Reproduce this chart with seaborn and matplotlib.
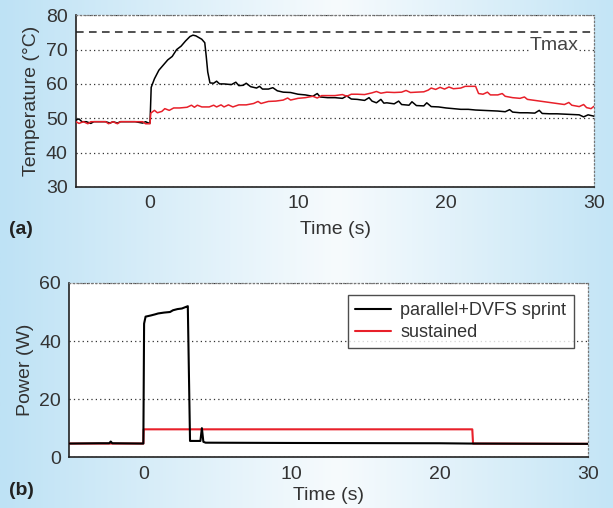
import numpy as np
import pandas as pd
import matplotlib.pyplot as plt
import seaborn as sns
from matplotlib.colors import LinearSegmentedColormap

# temperature traces (s, degC)
temp_sprint_t = [-5.0, -4.8, -4.6, -4.3, -4.0, -3.8, -3.5, -3.0, -2.7, -2.5, -2.2, -2.0, -1.5, -1.0,
                 -0.5, -0.3, -0.1, 0.0, 0.08, 0.3, 0.6, 0.9, 1.2, 1.5, 1.8, 2.1, 2.4, 2.7, 2.9, 3.1,
                 3.3, 3.5, 3.7, 3.8, 3.9, 4.05, 4.3, 4.5, 4.7, 5.0, 5.5, 5.8, 6.0, 6.3, 6.5, 6.8,
                 7.2, 7.4, 7.6, 8.0, 8.3, 8.6, 9.0, 9.5, 10.0, 10.5, 11.0, 11.3, 11.5, 12.0, 12.5,
                 13.0, 13.3, 13.6, 14.0, 14.5, 14.8, 15.0, 15.3, 15.6, 15.8, 16.0, 16.5, 16.8, 17.0,
                 17.5, 17.7, 18.0, 18.5, 18.7, 19.0, 19.5, 20.0, 20.5, 21.0, 21.5, 22.0, 22.5, 23.0,
                 23.5, 24.0, 24.3, 24.5, 25.0, 25.5, 26.0, 26.3, 26.5, 27.0, 27.5, 28.0, 28.5, 29.0,
                 29.3, 29.6, 30.0]
temp_sprint = [49.5, 49.8, 49.0, 49.0, 48.5, 49.0, 49.0, 49.0, 48.6, 49.0, 48.6, 49.0, 49.0, 49.0,
               48.6, 49.0, 48.6, 48.6, 59.0, 61.5, 64.0, 65.5, 67.0, 68.0, 70.0, 71.0, 72.5, 73.8,
               74.2, 74.0, 73.5, 73.0, 72.0, 68.0, 63.5, 60.3, 60.2, 60.8, 60.0, 60.0, 59.8, 60.5,
               59.5, 59.6, 60.2, 59.2, 58.8, 59.3, 58.5, 58.5, 58.9, 58.0, 57.6, 57.5, 57.0, 56.8,
               56.4, 57.2, 56.2, 56.0, 56.0, 55.8, 56.5, 55.6, 55.5, 55.2, 56.0, 55.0, 54.5, 55.5,
               54.4, 54.5, 54.2, 55.0, 54.0, 53.8, 54.8, 53.7, 53.6, 54.5, 53.4, 53.3, 53.0, 52.8,
               52.6, 52.6, 52.4, 52.3, 52.2, 52.1, 51.9, 52.5, 51.8, 51.6, 51.6, 51.5, 52.3, 51.4,
               51.3, 51.3, 51.2, 51.1, 51.0, 50.4, 51.0, 50.6]

temp_sust_t = [-5.0, -4.8, -4.5, -4.2, -4.0, -3.5, -3.0, -2.8, -2.5, -2.2, -2.0, -1.5, -1.0, -0.5,
               -0.3, 0.0, 0.05, 0.3, 0.5, 0.8, 1.0, 1.3, 1.6, 2.0, 2.5, 2.8, 3.0, 3.2, 3.5, 4.0,
               4.3, 4.5, 4.8, 5.0, 5.3, 5.6, 6.0, 6.5, 7.0, 7.3, 7.5, 8.0, 8.5, 9.0, 9.3, 9.5,
               10.0, 10.5, 11.0, 11.3, 11.6, 12.0, 12.5, 13.0, 13.3, 13.6, 14.0, 14.5, 15.0, 15.3,
               15.6, 16.0, 16.5, 17.0, 17.3, 17.6, 18.0, 18.5, 18.8, 19.0, 19.3, 19.6, 19.9, 20.2,
               20.5, 21.0, 21.3, 21.6, 22.0, 22.2, 22.5, 22.8, 23.0, 23.5, 23.8, 24.0, 24.5, 25.0,
               25.3, 25.5, 26.0, 26.5, 27.0, 27.5, 28.0, 28.3, 28.5, 29.0, 29.3, 29.5, 29.8, 30.0]
temp_sust = [49.0, 48.5, 49.0, 48.4, 49.0, 49.0, 49.0, 48.4, 49.0, 48.4, 49.0, 49.0, 49.0, 49.0,
             48.4, 48.4, 51.5, 52.3, 51.6, 52.0, 52.8, 52.3, 53.0, 53.0, 53.2, 53.8, 53.2, 53.8,
             53.3, 53.3, 53.8, 53.3, 53.9, 53.3, 53.9, 53.3, 53.9, 53.9, 54.3, 54.9, 54.3, 54.9,
             55.0, 55.3, 55.9, 55.3, 55.8, 56.0, 56.4, 55.9, 56.6, 56.6, 56.6, 56.9, 56.4, 57.0,
             57.0, 56.9, 57.4, 57.8, 57.3, 57.6, 57.5, 57.6, 58.1, 57.5, 57.6, 57.7, 58.2, 58.8,
             58.4, 59.0, 58.5, 59.1, 58.6, 58.8, 59.3, 59.3, 59.3, 57.2, 57.0, 57.6, 56.8, 56.8,
             57.2, 56.4, 56.0, 55.8, 56.2, 55.5, 55.2, 54.9, 54.6, 54.3, 54.0, 54.6, 53.8, 53.4,
             54.0, 53.1, 52.8, 53.5]

# power traces (s, W)
pow_sprint_t = [-5.0, -3.0, -2.3, -2.2, -2.1, 0.0, 0.05, 0.15, 0.5, 0.8, 1.0, 1.4, 1.8, 2.0, 2.3,
                2.6, 2.9, 3.0, 3.15, 3.85, 3.95, 4.05, 4.2, 10.0, 20.0, 22.0, 30.0]
pow_sprint = [4.7, 4.8, 4.8, 5.4, 4.8, 4.7, 46.0, 48.4, 48.8, 49.2, 49.5, 49.8, 50.0, 50.6, 51.0,
              51.2, 51.8, 52.0, 5.6, 5.6, 10.0, 5.3, 5.0, 4.9, 4.8, 4.7, 4.6]
pow_sust_t = [-5.0, 0.0, 0.02, 22.2, 22.25, 30.0]
pow_sust = [4.7, 4.7, 9.6, 9.6, 4.7, 4.6]

t_max = 75
labels = ["parallel+DVFS sprint", "sustained"]
colors = ["black", "#e8202a"]

sns.set_style("white")
plt.rcParams['font.family'] = ['Liberation Sans', 'DejaVu Sans']
txt = "#333333"

fig = plt.figure(figsize=(6.13, 5.08), dpi=100)

# background gradient
bg = fig.add_axes([0, 0, 1, 1], zorder=-10)
cmap = LinearSegmentedColormap.from_list("bg", [(0, "#bee2f5"), (0.55, "#f7fbfd"), (1, "#c4e5f6")])
bg.imshow(np.linspace(0, 1, 256)[None, :], aspect="auto", cmap=cmap, extent=[0, 1, 0, 1])
bg.axis("off")

ax1 = fig.add_axes([0.124, 0.632, 0.845, 0.338])
ax2 = fig.add_axes([0.113, 0.100, 0.846, 0.343])

df_t = pd.DataFrame({"t": temp_sprint_t + temp_sust_t,
                     "v": temp_sprint + temp_sust,
                     "run": [labels[0]] * len(temp_sprint_t) + [labels[1]] * len(temp_sust_t)})
df_p = pd.DataFrame({"t": pow_sprint_t + pow_sust_t,
                     "v": pow_sprint + pow_sust,
                     "run": [labels[0]] * len(pow_sprint_t) + [labels[1]] * len(pow_sust_t)})

sns.lineplot(data=df_t, x="t", y="v", hue="run", palette=colors, estimator=None,
             linewidth=1.1, ax=ax1, legend=False, zorder=3)
sns.lineplot(data=df_p[df_p.run == labels[1]], x="t", y="v", color=colors[1], estimator=None,
             linewidth=1.5, ax=ax2, label=labels[1], zorder=3)
sns.lineplot(data=df_p[df_p.run == labels[0]], x="t", y="v", color=colors[0], estimator=None,
             linewidth=1.5, ax=ax2, label=labels[0], zorder=4)

ax1.axhline(t_max, color="#222222", ls=(0, (5, 3.5)), lw=1.1, zorder=2)
ax1.text(27.3, 71.3, "Tmax", ha="center", va="center", fontsize=14, color="#444444",
         bbox=dict(facecolor="white", edgecolor="none", pad=0.5), zorder=2.5)

for ax, ylim, yt, ylab, xpad in [(ax1, (30, 80), [30, 40, 50, 60, 70, 80], "Temperature (°C)", 6),
                                 (ax2, (0, 60), [0, 20, 40, 60], "Power (W)", 3)]:
    ax.set_facecolor("white")
    ax.set_xlim(-5, 30)
    ax.set_ylim(*ylim)
    ax.set_xticks([0, 10, 20, 30])
    ax.set_yticks(yt)
    ax.yaxis.grid(True, ls=(0, (1, 2.5)), color="#333333", lw=0.9)
    ax.tick_params(length=0, labelsize=14, colors=txt, pad=6)
    ax.set_xlabel("Time (s)", fontsize=14, color=txt, labelpad=xpad)
    ax.set_ylabel(ylab, fontsize=14, color=txt, labelpad=4)
    for s in ["left", "bottom"]:
        ax.spines[s].set_color("#222222")
        ax.spines[s].set_linewidth(1.2)
    for s in ["top", "right"]:
        ax.spines[s].set_linestyle((0, (1, 2)))
        ax.spines[s].set_color("#777777")
        ax.spines[s].set_linewidth(0.9)

h, l = ax2.get_legend_handles_labels()
order = [l.index(labels[0]), l.index(labels[1])]
leg = ax2.legend([h[i] for i in order], [l[i] for i in order], loc="upper right",
                 bbox_to_anchor=(0.99, 0.985), fontsize=13, frameon=True, fancybox=False,
                 edgecolor="#222222", handlelength=2.0, borderpad=0.4, labelspacing=0.3,
                 handletextpad=0.5, labelcolor=txt)
leg.get_frame().set_linewidth(1.0)

fig.text(0.014, 0.548, "(a)", fontsize=14, fontweight="bold", color="#222222", va="center")
fig.text(0.014, 0.035, "(b)", fontsize=14, fontweight="bold", color="#222222", va="center")

fig.savefig("out.png", dpi=100)
